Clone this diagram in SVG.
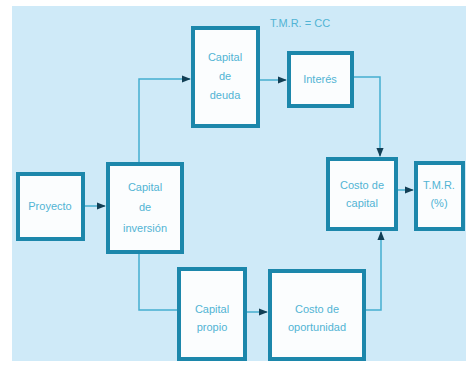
<svg xmlns="http://www.w3.org/2000/svg" width="472" height="367" viewBox="0 0 472 367">
<style>
.box{fill:#fbfdfe;stroke:#1c87ab;stroke-width:4}
.t{font-family:"Liberation Sans",Arial,sans-serif;font-size:11px;fill:#52b4d4;text-anchor:middle}
.c{fill:none;stroke:#46aecf;stroke-width:1.5}
</style>
<defs>
<marker id="a" viewBox="0 0 10 10" refX="9" refY="5" markerWidth="6" markerHeight="6" orient="auto">
<path d="M0,1 L10,5 L0,9 z" fill="#123f55"/>
</marker>
</defs>
<rect x="0" y="0" width="472" height="367" fill="#ffffff"/>
<rect x="12" y="6" width="454" height="355" fill="#cfeaf8"/>
<text class="t" x="300" y="27" font-size="10">T.M.R. = CC</text>
<g id="connectors">
<path class="c" d="M84,206 H105" marker-end="url(#a)"/>
<path class="c" d="M139,162 V79 H190" marker-end="url(#a)"/>
<path class="c" d="M259,80 H286" marker-end="url(#a)"/>
<path class="c" d="M353,77 H380 V156" marker-end="url(#a)"/>
<path class="c" d="M139,253 V310 H178"/>
<path class="c" d="M246,312 H267" marker-end="url(#a)"/>
<path class="c" d="M365,310 H381 V232" marker-end="url(#a)"/>
<path class="c" d="M397,190 H413" marker-end="url(#a)"/>
</g>
<g id="proyecto"><rect class="box" x="18" y="174" width="65" height="65"/><text class="t" x="50" y="210">Proyecto</text></g>
<g id="capital-inversion"><rect class="box" x="108" y="164" width="74" height="88"/><text class="t" x="145" y="191">Capital</text><text class="t" x="145" y="211">de</text><text class="t" x="145" y="232">inversión</text></g>
<g id="capital-deuda"><rect class="box" x="193" y="28" width="65" height="98"/><text class="t" x="225" y="61">Capital</text><text class="t" x="225" y="80">de</text><text class="t" x="225" y="99">deuda</text></g>
<g id="interes"><rect class="box" x="289" y="53" width="63" height="53"/><text class="t" x="320" y="83">Interés</text></g>
<g id="costo-capital"><rect class="box" x="328" y="159" width="68" height="70"/><text class="t" x="362" y="189">Costo de</text><text class="t" x="362" y="207">capital</text></g>
<g id="tmr"><rect class="box" x="416" y="163" width="47" height="66"/><text class="t" x="439" y="189">T.M.R.</text><text class="t" x="439" y="207">(%)</text></g>
<g id="capital-propio"><rect class="box" x="179" y="269" width="66" height="90"/><text class="t" x="212" y="313">Capital</text><text class="t" x="212" y="331">propio</text></g>
<g id="costo-oportunidad"><rect class="box" x="270" y="271" width="94" height="88"/><text class="t" x="317" y="313">Costo de</text><text class="t" x="317" y="331">oportunidad</text></g>
</svg>
